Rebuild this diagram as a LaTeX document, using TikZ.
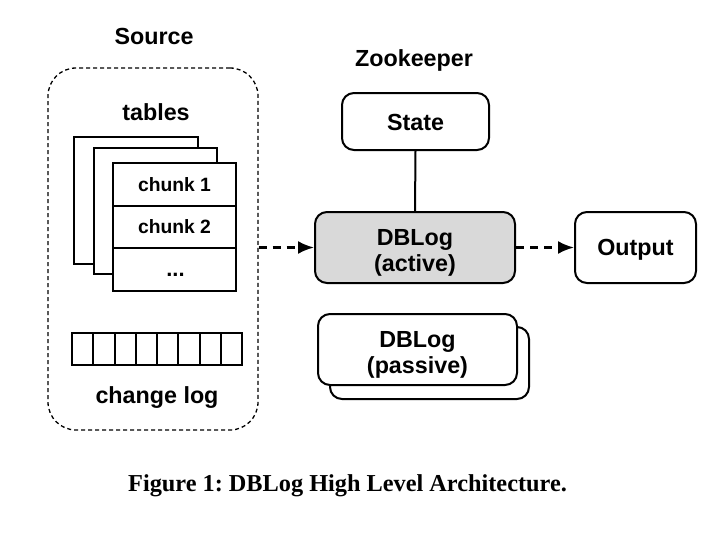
\documentclass[tikz,border=0pt]{standalone}
\usepackage{fontspec}
\setmainfont{Liberation Serif}
\newfontfamily\arialf{Liberation Sans}
\usetikzlibrary{arrows.meta}
\tikzset{
  lbl/.style={font=\arialf\bfseries\fontsize{23.3}{26}\selectfont, align=center, inner sep=0pt},
  chunkcell/.style={draw, line width=2pt, fill=white, minimum width=123pt, minimum height=42.5pt, inner sep=0pt,
    font=\arialf\bfseries\fontsize{19.3}{22}\selectfont},
  dotstext/.style={inner sep=0pt, font=\arialf\bfseries\fontsize{22}{22}\selectfont},
  tablesheet/.style={draw, line width=2pt, fill=white, minimum width=124pt, minimum height=127pt, inner sep=0pt},
  logcell/.style={draw, line width=2pt, minimum width=21.25pt, minimum height=32pt, inner sep=0pt},
  rbox/.style={draw, line width=2pt, rounded corners=12pt, fill=white, inner sep=0pt},
  container/.style={draw, dashed, dash pattern=on 4pt off 3pt, line width=1.3pt, rounded corners=28pt,
    minimum width=210pt, minimum height=362pt, inner sep=0pt},
  dasharrow/.style={line width=2.3pt, dash pattern=on 8pt off 6pt, -{Latex[length=16pt,width=13pt]}},
  plainline/.style={line width=2pt},
}
\begin{document}
\begin{tikzpicture}[x=1pt,y=-1pt]
\useasboundingbox[fill=white] (0,0) rectangle (713,533);

% Source container
\node[lbl] (srclbl) at (154,36) {Source};
\node[container] (src) at (153,249) {};
\node[lbl] (tables) at (156,112) {tables};

% stacked tables
\node[tablesheet] (sheet1) at (135.5,200) {};
\node[tablesheet, minimum width=123pt, minimum height=126pt] (sheet2) at (155.5,211) {};
\node[chunkcell] (chunk1) at (174.5,184.25) {chunk 1};
\node[chunkcell] (chunk2) at (174.5,226.75) {chunk 2};
\node[chunkcell] (dotscell) at (174.5,269.25) {};
\node[dotstext] (dots) at (175.5,274.5) {...};

% change log
\foreach \i in {1,...,8} {
  \node[logcell] (cell\i) at ({72+21.25*(\i-0.5)},349) {};
}
\node[lbl] (changelog) at (157,398) {change log};

% Zookeeper
\node[lbl] (zklbl) at (414,60) {Zookeeper};
\node[rbox, minimum width=147pt, minimum height=57pt] (state) at (415.5,121.5) {};
\node[lbl] (statetxt) at (415.5,122.5) {State};

% DBLog active
\node[rbox, fill={rgb,255:red,217;green,217;blue,217}, minimum width=200pt, minimum height=71pt] (active) at (415,247.5) {};
\node[lbl] (activetxt) at (415,252.5) {DBLog\\(active)};

% Output
\node[rbox, minimum width=121pt, minimum height=71pt] (output) at (635.5,247.5) {};
\node[lbl] (outputtxt) at (635.5,250) {Output};

% DBLog passive
\node[rbox, minimum width=199pt, minimum height=72pt] (passiveback) at (429.5,363) {};
\node[rbox, minimum width=199pt, minimum height=71pt] (passive) at (417.5,349.5) {};
\node[lbl] (passivetxt) at (417.5,354.5) {DBLog\\(passive)};

% connectors
\draw[plainline] (state.south) -- (active.north);
\draw[dasharrow] (src.east |- active.west) -- (active.west);
\draw[dasharrow] (active.east) -- (output.west);

% caption
\node[font=\bfseries\fontsize{24.3}{28}\selectfont, inner sep=0pt] (caption) at (347.5,486) {\frenchspacing Figure 1: DBLog High Level Architecture.};
\end{tikzpicture}
\end{document}
